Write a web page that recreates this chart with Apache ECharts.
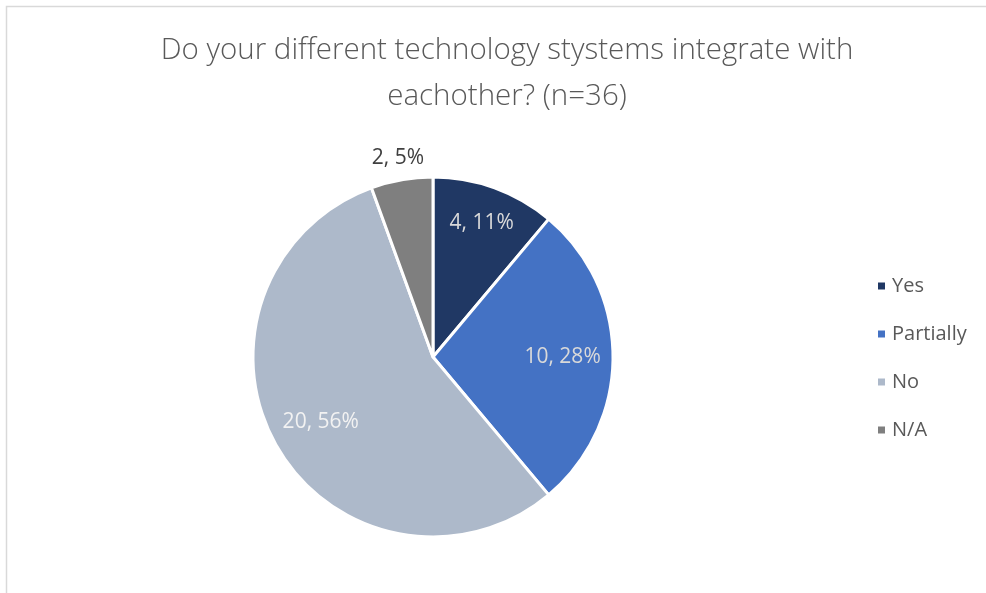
<!DOCTYPE html>
<html>
<head>
<meta charset="utf-8">
<script src="https://cdn.jsdelivr.net/npm/echarts@6/dist/echarts.min.js"></script>
<style>
  html, body { margin: 0; padding: 0; background: #fff; }
  #chart { width: 986px; height: 593px; }
</style>
</head>
<body>
<div id="chart"></div>
<script>
// Survey answers: integration between technology systems (n=36)
const categories = ['Yes', 'Partially', 'No', 'N/A'];
const counts = [4, 10, 20, 2];
const percentLabels = ['11%', '28%', '56%', '5%'];
const sliceColors = ['#203864', '#4472C4', '#ADB9CA', '#7F7F7F'];
const labelColors = ['#D9D9D9', '#D9D9D9', '#F2F2F2', '#404040'];
// radial position of each label as a fraction of the pie radius
const labelRadiusFrac = [0.79, 0.72, 0.72, 1.12];

const CX = 433, CY = 357, R = 180;
const total = counts.reduce((a, b) => a + b, 0);

// mid angle of each slice (clockwise from 12 o'clock)
const midAngles = [];
let acc = 0;
counts.forEach(v => {
  midAngles.push((acc + v / 2) / total * Math.PI * 2);
  acc += v;
});

const chart = echarts.init(document.getElementById('chart'), null, { renderer: 'canvas' });
const FONT = '"Open Sans", "Noto Sans", sans-serif';

chart.setOption({
  backgroundColor: '#ffffff',
  animation: false,
  title: {
    text: 'Do your different technology stystems integrate with\neachother? (n=36)',
    left: 502,
    top: 23,
    textAlign: 'center',
    textStyle: {
      fontFamily: FONT,
      fontWeight: 300,
      fontSize: 29.5,
      lineHeight: 46,
      color: '#595959'
    }
  },
  legend: {
    orient: 'vertical',
    left: 871,
    top: 271,
    itemWidth: 9,
    itemHeight: 9,
    itemGap: 28,
    icon: 'rect',
    textStyle: { fontFamily: FONT, fontSize: 20, color: '#595959', padding: [0, 0, 0, 1] },
    data: categories
  },
  graphic: [{
    type: 'rect',
    shape: { x: 6.5, y: 6.5, width: 1200, height: 800 },
    style: { fill: 'none', stroke: '#D9D9D9', lineWidth: 1.5 },
    silent: true
  }],
  series: [{
    type: 'pie',
    center: [CX, CY],
    radius: [0, R],
    startAngle: 90,
    clockwise: true,
    avoidLabelOverlap: false,
    itemStyle: { borderColor: '#ffffff', borderWidth: 3 },
    label: {
      show: true,
      position: 'inside',
      fontFamily: FONT,
      fontSize: 21,
      formatter: p => p.value + ', ' + percentLabels[p.dataIndex]
    },
    labelLine: { show: false },
    labelLayout: p => {
      const i = p.dataIndex;
      const a = midAngles[i];
      const r = R * labelRadiusFrac[i];
      return {
        x: CX + r * Math.sin(a),
        y: CY - r * Math.cos(a),
        align: 'center',
        verticalAlign: 'middle'
      };
    },
    data: categories.map((name, i) => ({
      name,
      value: counts[i],
      itemStyle: { color: sliceColors[i] },
      label: { color: labelColors[i] }
    }))
  }]
});
</script>
</body>
</html>
